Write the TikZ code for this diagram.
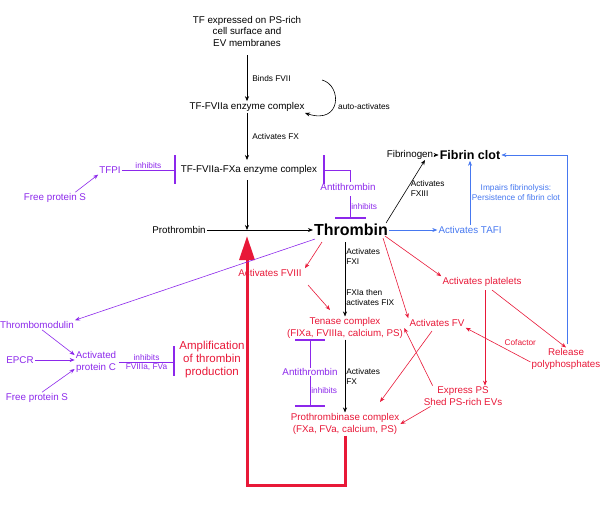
\documentclass[tikz,border=0pt]{standalone}
\usepackage{fontspec}
\setmainfont{Liberation Sans}
\usetikzlibrary{arrows.meta}
\definecolor{pur}{RGB}{140,40,235}
\definecolor{rd}{RGB}{232,24,56}
\definecolor{bl}{RGB}{70,120,240}
\tikzset{
  lab/.style={font=\fontsize{9.8}{11.5}\selectfont, align=center, inner sep=1pt},
  sm/.style={font=\fontsize{8.3}{10}\selectfont, align=left, inner sep=1pt, anchor=west},
  arr/.style={-{Stealth[length=5pt,width=4pt]}, line width=0.6pt},
  bar/.style={line width=2.6pt},
}
\begin{document}
\begin{tikzpicture}[x=1pt,y=-1pt]
\useasboundingbox (0,0) rectangle (600,507);

% Extrinsic start
\node[lab] (tf) at (247,31) {TF expressed on PS-rich\\cell surface and\\EV membranes};
\node[lab] (tfvii) at (247,107) {TF-FVIIa enzyme complex};
\node[lab] (tfxa) at (249,170) {TF-FVIIa-FXa enzyme complex};
\draw[arr] (247,55) -- (tfvii.north) node[midway, sm, xshift=4pt] {Binds FVII};
\draw[arr] (tfvii.south) -- (247,160) node[midway, sm, xshift=4pt] {Activates FX};
\draw[arr] (322,80) .. controls (342,85) and (342,125) .. (305,113);
\node[sm] (auto) at (337,107) {auto-activates};

% TFPI
\node[lab, pur] (tfpi) at (110,170) {TFPI};
\node[lab, pur] (ps1) at (55,198) {Free protein S};
\draw[arr, pur] (ps1.north east) ++(-12,0) -- (tfpi.south west);
\draw[pur, line width=0.6pt] (tfpi.east) -- (175,170) node[midway, above, sm, anchor=south, pur] {inhibits};
\draw[bar, pur] (175,155) -- (175,184);

% Antithrombin top
\node[lab, pur] (at1) at (348,187) {Antithrombin};
\draw[bar, pur] (324,155) -- (324,184);
\draw[pur, line width=0.6pt] (324,170) -- (350,170) -- (at1.north -| 350,0);
\draw[pur, line width=0.6pt] (350,196) -- (350,218) node[midway, sm, pur] {inhibits};
\draw[bar, pur] (335,218) -- (366,218);

% Thrombin
\node[font=\fontsize{16}{18}\selectfont\bfseries, inner sep=1pt] (thr) at (351,230) {Thrombin};
\node[lab] (pro) at (179,230) {Prothrombin};
\coordinate (join) at (247,230);
\draw[arr] (247,180) -- (join);
\draw[arr] (pro.east) -- (thr.west);

% Fibrin
\node[lab] (fbg) at (410,155) {Fibrinogen};
\node[font=\fontsize{12.5}{14}\selectfont\bfseries, inner sep=1pt] (fib) at (470,155) {Fibrin clot};
\draw[arr] (fbg.east) -- (fib.west);
\draw[arr] (thr.north east) ++(-3,0) -- (425,160) node[pos=0.55, sm, xshift=2pt] {Activates\\FXIII};

% TAFI
\node[lab, bl] (tafi) at (470,230) {Activates TAFI};
\draw[arr, bl] (thr.east) -- (tafi.west);
\draw[arr, bl] (tafi.north) -- (fib.south) node[midway, lab, bl, font=\fontsize{8.3}{10}\selectfont, xshift=46pt] {Impairs fibrinolysis:\\Persistence of fibrin clot};

% Intrinsic / tenase
\node[lab, rd] (ten) at (345,328) {Tenase complex\\(FIXa, FVIIIa, calcium, PS)};
\node[lab, rd] (f8) at (270,273) {Activates FVIII};
\draw[arr] (345,242) -- (ten.north) node[pos=0.2, sm] {Activates\\FXI} node[pos=0.75, sm] {FXIa then\\activates FIX};
\draw[arr, rd] (322,242) -- (f8.north -| 305,0);
\draw[arr, rd] (308,285) -- (330,310);

% Platelets and FV
\node[lab, rd] (fv) at (437,323) {Activates FV};
\node[lab, rd] (plt) at (482,282) {Activates platelets};
\node[lab, rd] (exps) at (463,396) {Express PS\\Shed PS-rich EVs};
\node[lab, rd] (poly) at (566,359) {Release\\polyphosphates};
\draw[arr, rd] (383,238) -- (fv.north west);
\draw[arr, rd] (385,236) -- (plt.north west);
\draw[arr, rd] (485,290) -- (exps.north -| 485,0);
\draw[arr, rd] (492,290) -- (poly.north);
\draw[arr, rd] (poly.west) ++(0,3) -- (fv.south east) node[pos=0.45, above, sm, rd, anchor=south west, xshift=2pt] {Cofactor};
\draw[arr, rd] (exps.north west) ++(10,0) -- (ten.east);

% Prothrombinase
\node[lab, rd] (ptb) at (345,424) {Prothrombinase complex\\(FXa, FVa, calcium, PS)};
\draw[arr] (ten.south) -- (ptb.north) node[midway, sm] {Activates\\FX};
\draw[arr, rd] (432,331) -- (380,402);
\draw[arr, rd] (exps.south west) ++(8,0) -- (ptb.east);

% Antithrombin lower
\node[lab, pur, fill=white, inner sep=0pt] (at2) at (310,372) {Antithrombin};
\draw[bar, pur] (295,340) -- (325,340);
\draw[pur, line width=0.6pt] (310,340) -- (at2.north);
\draw[pur, line width=0.6pt] (at2.south) -- (310,406) node[midway, sm, pur] {inhibits};
\draw[bar, pur] (295,406) -- (325,406);

% Feedback loop
\draw[rd, line width=3pt, -{Triangle[length=24pt,width=15pt]}] (ptb.south) -- (345,485) -- (247,485) -- (247,236);

% Protein C
\node[lab, pur] (tm) at (37,325) {Thrombomodulin};
\node[lab, pur] (epcr) at (20,360) {EPCR};
\node[lab, pur] (ps2) at (37,398) {Free protein S};
\node[lab, pur] (apc) at (96,362) {Activated\\protein C};
\draw[arr, pur] (thr.south west) ++(2,2) -- (tm.north east);
\draw[arr, pur] (tm.south) ++(5,0) -- (apc.west |- 0,355);
\draw[arr, pur] (epcr.east) -- (apc.west |- 0,360);
\draw[arr, pur] (ps2.north) ++(5,0) -- (apc.west |- 0,369);
\draw[pur, line width=0.6pt] (119,362) -- (174,362)
  node[midway, above, sm, anchor=south, pur] {inhibits}
  node[midway, below, sm, anchor=north, pur] {FVIIIa, FVa};
\draw[bar, pur] (174,346) -- (174,376);
\node[lab, rd, font=\fontsize{11.5}{13}\selectfont] (amp) at (212,360) {Amplification\\of thrombin\\production};

% Polyphosphate feedback
\draw[arr, bl] (567,344) -- (567,155) -- (fib.east);
\end{tikzpicture}
\end{document}
